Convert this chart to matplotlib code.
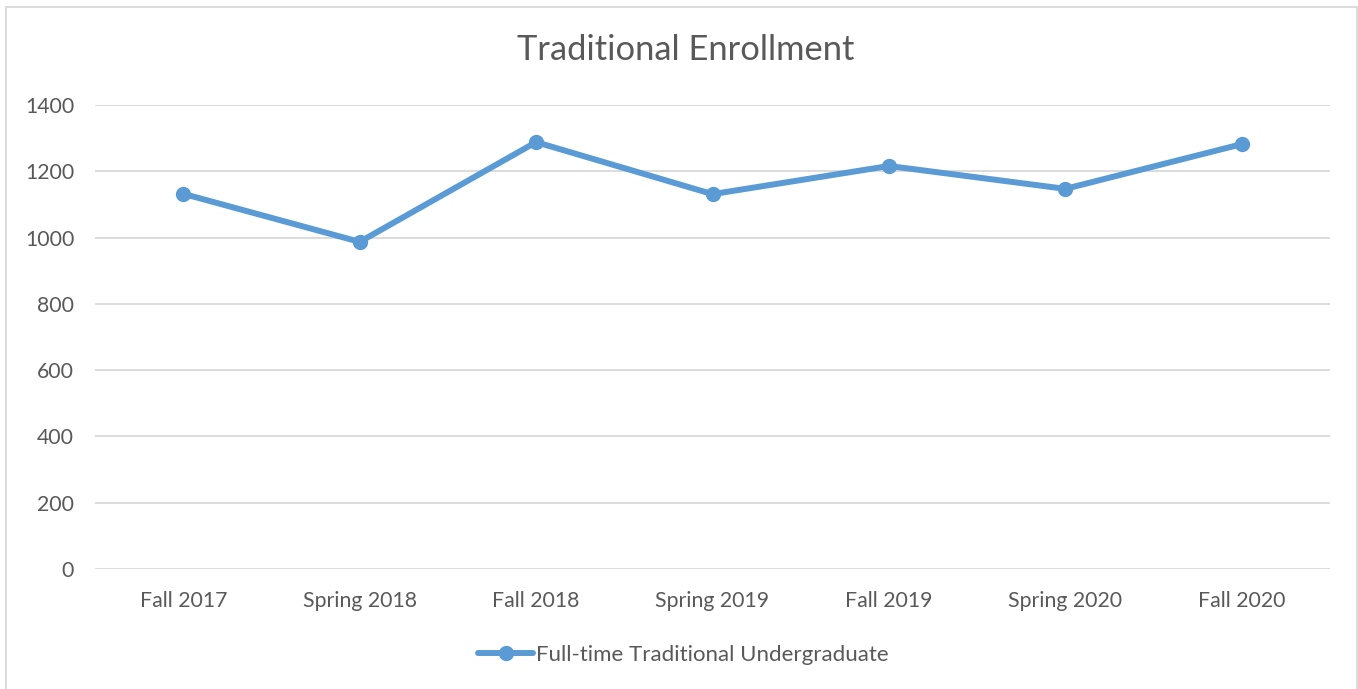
import matplotlib.pyplot as plt
from matplotlib.patches import Rectangle

terms = ['Fall 2017', 'Spring 2018', 'Fall 2018', 'Spring 2019',
         'Fall 2019', 'Spring 2020', 'Fall 2020']
enrollment = [1132, 987, 1288, 1131, 1216, 1147, 1282]
y_ticks = [0, 200, 400, 600, 800, 1000, 1200, 1400]

blue = '#5B9BD5'
text_color = '#595959'

plt.rcParams['font.family'] = ['Lato', 'DejaVu Sans']

fig = plt.figure(figsize=(13.58, 6.89), dpi=100)
ax = fig.add_axes([0.070, 0.1742, 0.9094, 0.6734])

x = list(range(len(terms)))
ax.plot(x, enrollment, color=blue, linewidth=4.3, marker='o', markersize=10,
        solid_capstyle='round', label='Full-time Traditional Undergraduate',
        zorder=3)

ax.set_xlim(-0.5, len(terms) - 0.5)
ax.set_ylim(0, 1400)
ax.set_yticks(y_ticks)
ax.set_xticks(x)
ax.set_xticklabels(terms)
ax.grid(axis='y', color='#D9D9D9', linewidth=1.3)
ax.set_axisbelow(True)
for side in ['top', 'right', 'left', 'bottom']:
    ax.spines[side].set_visible(False)
ax.tick_params(length=0, labelsize=15.3, colors=text_color)
ax.tick_params(axis='x', pad=15.5)
ax.tick_params(axis='y', pad=15)

fig.text(0.505, 1 - 50 / 689, 'Traditional Enrollment', ha='center',
         va='center', fontsize=24.8, color=text_color)

fig.legend(loc='center', bbox_to_anchor=(0.503, 0.050), frameon=False,
           fontsize=16, labelcolor=text_color, handlelength=2.5,
           handletextpad=0.1)

fig.patches.append(Rectangle((6 / 1358, -0.01), 1 - 6 / 1358 - 0.001, 1 - 7 / 689 + 0.01,
                             transform=fig.transFigure, fill=False,
                             edgecolor='#D9D9D9', linewidth=1.3))

fig.savefig('out.png', dpi=100)
